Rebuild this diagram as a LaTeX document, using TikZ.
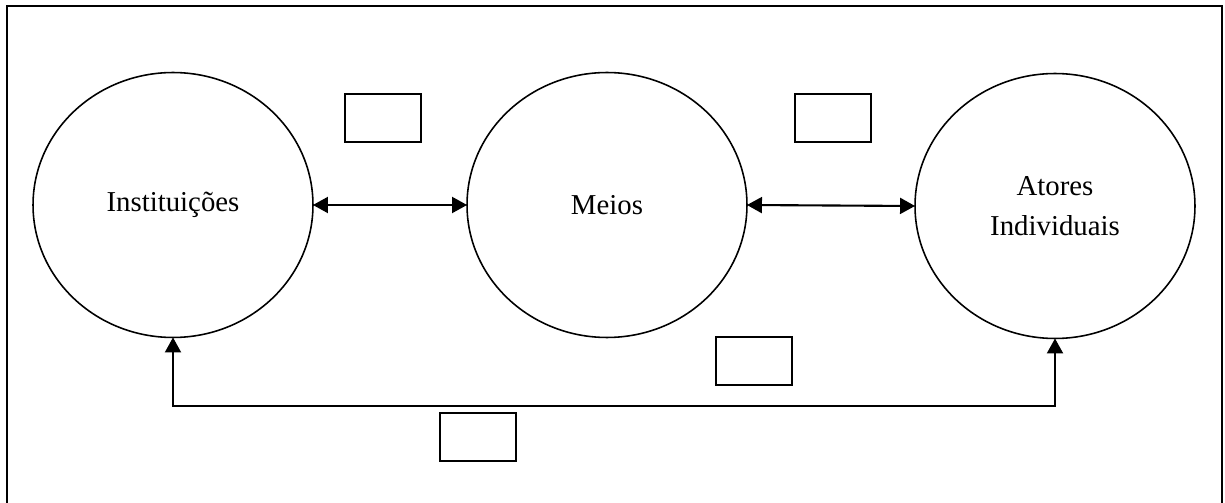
\documentclass[tikz,border=0pt]{standalone}
\usepackage{fontspec}
\setmainfont{Liberation Serif}
\usetikzlibrary{shapes.geometric,arrows.meta}
\begin{document}
\begin{tikzpicture}[x=0.02cm,y=-0.02cm,
  actor/.style={draw, ellipse, line width=0.9pt, minimum width=5.6cm, minimum height=5.3cm, inner sep=0pt, outer sep=0pt, align=center, font=\fontsize{16.4}{23}\selectfont},
  emptybox/.style={draw, line width=1pt, minimum width=1.52cm, minimum height=0.96cm, inner sep=0pt},
  link/.style={line width=1.2pt, {Triangle[length=0.3cm,width=0.32cm]}-{Triangle[length=0.3cm,width=0.32cm]}}]
\useasboundingbox (0,0) rectangle (1225,503);
\draw[line width=1.3pt] (7,520) -- (7,6) -- (1222,6) -- (1222,520);
\node[actor] (inst) at (173,205) {Instituições};
\node[actor] (meios) at (607,205) {Meios};
\node[actor] (atores) at (1055,206) {Atores\\Individuais};
\node[emptybox] (box1) at (383,118) {};
\node[emptybox] (box2) at (833,118) {};
\node[emptybox] (box3) at (754,361) {};
\node[emptybox] (box4) at (478,437) {};
\coordinate (base) at (600,406);
\draw[link] (inst.east) -- (meios.west);
\draw[link] (meios.east) -- (atores.west);
\draw[link] (inst.south) |- (base) -| (atores.south);
\end{tikzpicture}
\end{document}
